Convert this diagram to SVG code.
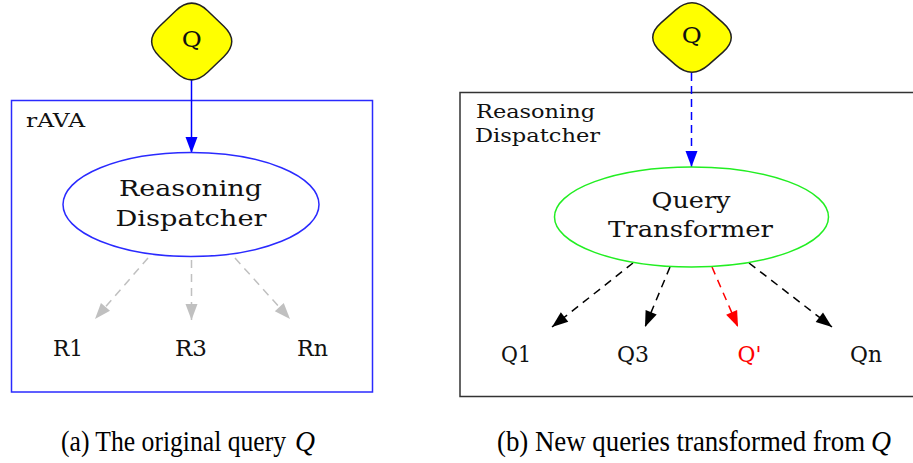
<svg xmlns="http://www.w3.org/2000/svg" width="913" height="463" viewBox="0 0 913 463">
<style>
text{font-family:"DejaVu Serif",serif;fill:#111;}
.lbl{font-size:22px;text-anchor:middle;}
.cap{font-family:"Liberation Serif",serif;font-size:26px;fill:#000;}
.diam{fill:#ffff00;stroke:#222;stroke-width:1.5;}
.e{fill:none;stroke-width:1.5;}
.c{fill:none;stroke-width:1.5;}
</style>
<defs>
<marker id="mBlue" markerUnits="userSpaceOnUse" markerWidth="18" markerHeight="14" refX="17" refY="7" orient="auto"><path d="M1,1 L17,7 L1,13 z" fill="#0000ff"/></marker>
<marker id="mGrey" markerUnits="userSpaceOnUse" markerWidth="18" markerHeight="14" refX="17" refY="7" orient="auto"><path d="M1,1 L17,7 L1,13 z" fill="#c0c0c0"/></marker>
<marker id="mBlack" markerUnits="userSpaceOnUse" markerWidth="18" markerHeight="14" refX="17" refY="7" orient="auto"><path d="M1,1 L17,7 L1,13 z" fill="#000"/></marker>
<marker id="mRed" markerUnits="userSpaceOnUse" markerWidth="18" markerHeight="14" refX="17" refY="7" orient="auto"><path d="M1,1 L17,7 L1,13 z" fill="#ff0000"/></marker>
</defs>

<g id="clusterA">
<rect x="11.5" y="100.5" width="361" height="291.5" fill="none" stroke="#2a2aff" stroke-width="1.5"/>
<text x="26" y="127" font-size="19" textLength="59" lengthAdjust="spacingAndGlyphs">rAVA</text>
</g>
<g id="clusterB">
<rect x="460" y="92.5" width="470" height="304" fill="none" stroke="#333" stroke-width="1.5"/>
<text x="476" y="118" font-size="19" textLength="119" lengthAdjust="spacingAndGlyphs">Reasoning</text>
<text x="475" y="142" font-size="19" textLength="125" lengthAdjust="spacingAndGlyphs">Dispatcher</text>
</g>

<g id="connectors">
<line class="c" x1="191.5" y1="80" x2="191.5" y2="153" stroke="#0000ff" marker-end="url(#mBlue)"/>
<line class="c" x1="148" y1="258" x2="95" y2="319" stroke="#c0c0c0" stroke-dasharray="8,6" marker-end="url(#mGrey)"/>
<line class="c" x1="191.5" y1="260" x2="191.5" y2="320" stroke="#c0c0c0" stroke-dasharray="8,6" marker-end="url(#mGrey)"/>
<line class="c" x1="235" y1="258" x2="290" y2="319" stroke="#c0c0c0" stroke-dasharray="8,6" marker-end="url(#mGrey)"/>
<line class="c" x1="691.5" y1="73" x2="691.5" y2="167" stroke="#0000ff" stroke-dasharray="8,5" marker-end="url(#mBlue)"/>
<line class="c" x1="633" y1="263" x2="552" y2="327" stroke="#000" stroke-dasharray="8,6" marker-end="url(#mBlack)"/>
<line class="c" x1="670" y1="267" x2="645" y2="327" stroke="#000" stroke-dasharray="8,6" marker-end="url(#mBlack)"/>
<line class="c" x1="712" y1="267" x2="738" y2="327" stroke="#ff0000" stroke-dasharray="8,6" marker-end="url(#mRed)"/>
<line class="c" x1="749" y1="263" x2="832" y2="327" stroke="#000" stroke-dasharray="8,6" marker-end="url(#mBlack)"/>
</g>

<g id="qA">
<path class="diam" d="M175.8,10.7 Q191.7,-4.5 207.6,10.7 L223.8,26.3 Q239.7,41.5 223.8,56.7 L207.6,72.3 Q191.7,87.5 175.8,72.3 L159.6,56.7 Q143.7,41.5 159.6,26.3 Z"/>
<text class="lbl" x="191.7" y="47" textLength="20" lengthAdjust="spacingAndGlyphs">Q</text>
</g>
<g id="dispatcher">
<ellipse class="e" cx="191" cy="204.5" rx="128" ry="52" stroke="#2a2aff"/>
<text class="lbl" x="190.5" y="196" textLength="143" lengthAdjust="spacingAndGlyphs">Reasoning</text>
<text class="lbl" x="191" y="226" textLength="151" lengthAdjust="spacingAndGlyphs">Dispatcher</text>
</g>
<g id="R1"><text class="lbl" x="68" y="356" textLength="30" lengthAdjust="spacingAndGlyphs">R1</text></g>
<g id="R3"><text class="lbl" x="191" y="356" textLength="32" lengthAdjust="spacingAndGlyphs">R3</text></g>
<g id="Rn"><text class="lbl" x="312.5" y="356" textLength="31" lengthAdjust="spacingAndGlyphs">Rn</text></g>

<g id="qB">
<path class="diam" d="M675.5,10.1 Q692,-4.5 708.5,10.1 L723,22.9 Q739.5,37.5 723,52.1 L708.5,64.9 Q692,79.5 675.5,64.9 L661,52.1 Q644.5,37.5 661,22.9 Z"/>
<text class="lbl" x="691.7" y="43" textLength="20" lengthAdjust="spacingAndGlyphs">Q</text>
</g>
<g id="transformer">
<ellipse class="e" cx="691.5" cy="217" rx="137" ry="50" stroke="#22ee22"/>
<text class="lbl" x="691" y="208" textLength="79" lengthAdjust="spacingAndGlyphs">Query</text>
<text class="lbl" x="690.5" y="237" textLength="165" lengthAdjust="spacingAndGlyphs">Transformer</text>
</g>
<g id="Q1"><text class="lbl" x="516" y="362" textLength="30" lengthAdjust="spacingAndGlyphs">Q1</text></g>
<g id="Q3"><text class="lbl" x="633" y="362" textLength="32" lengthAdjust="spacingAndGlyphs">Q3</text></g>
<g id="Qp"><text class="lbl" x="749.5" y="362" textLength="24" lengthAdjust="spacingAndGlyphs" style="fill:#ff0000">Q'</text></g>
<g id="Qn"><text class="lbl" x="866" y="362" textLength="32" lengthAdjust="spacingAndGlyphs">Qn</text></g>

<g id="captions">
<text class="cap" transform="translate(61,451) scale(1,1.12)" textLength="225" lengthAdjust="spacingAndGlyphs">(a) The original query</text>
<text class="cap" transform="translate(295,451) scale(1,1.12)" textLength="20" lengthAdjust="spacingAndGlyphs" font-style="italic">Q</text>
<text class="cap" transform="translate(497,451) scale(1,1.12)" textLength="368" lengthAdjust="spacingAndGlyphs">(b) New queries transformed from</text>
<text class="cap" transform="translate(871,451) scale(1,1.12)" textLength="20" lengthAdjust="spacingAndGlyphs" font-style="italic">Q</text>
</g>
</svg>
